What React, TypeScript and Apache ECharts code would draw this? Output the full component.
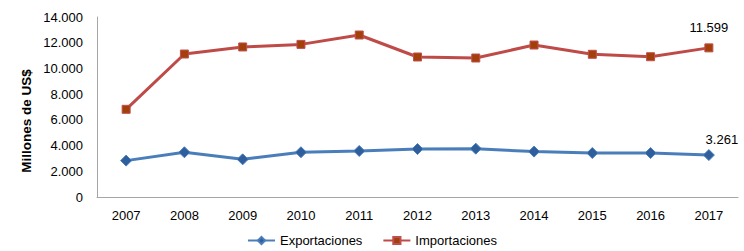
import React, { useEffect, useRef } from "react";
import * as echarts from "echarts";

const years = ["2007", "2008", "2009", "2010", "2011", "2012", "2013", "2014", "2015", "2016", "2017"];
const exportaciones = [2830, 3480, 2930, 3480, 3580, 3730, 3760, 3530, 3420, 3420, 3261];
const importaciones = [6820, 11120, 11670, 11870, 12600, 10890, 10810, 11820, 11100, 10910, 11599];
const yAxisTitle = "Millones de US$";

const fmt = (v: number) => String(Math.round(v)).replace(/\B(?=(\d{3})+(?!\d))/g, ".");

export default function App() {
  const ref = useRef<HTMLDivElement>(null);
  useEffect(() => {
    document.body.style.margin = "0";
    const chart = echarts.init(ref.current!, null, { renderer: "svg" });
    const font = "Liberation Sans, Arial, sans-serif";
    const last = years.length - 1;
    chart.setOption({
      animation: false,
      textStyle: { fontFamily: font },
      grid: { left: 97, right: 6, top: 17, bottom: 54 },
      graphic: [
        {
          type: "text",
          x: 26,
          y: 121,
          rotation: Math.PI / 2,
          style: {
            text: yAxisTitle,
            align: "center",
            verticalAlign: "middle",
            fontSize: 13.5,
            fontWeight: "bold",
            fontFamily: font,
            fill: "#000",
          },
        },
      ],
      legend: {
        top: 229,
        left: "center",
        itemWidth: 27,
        itemHeight: 9,
        itemGap: 20,
        textStyle: { fontSize: 13, color: "#000", fontFamily: font },
        data: ["Exportaciones", "Importaciones"],
      },
      xAxis: {
        type: "category",
        data: years,
        boundaryGap: true,
        axisLine: { lineStyle: { color: "#a6a6a6", width: 1 } },
        axisTick: { show: false },
        axisLabel: { color: "#000", fontSize: 13, margin: 12, fontFamily: font },
      },
      yAxis: {
        type: "value",
        min: 0,
        max: 14000,
        interval: 2000,
        axisLine: { show: true, lineStyle: { color: "#a6a6a6", width: 1 } },
        axisTick: { show: false },
        splitLine: { show: false },
        axisLabel: { color: "#000", fontSize: 13, margin: 14, formatter: (v: number) => fmt(v), fontFamily: font },
      },
      series: [
        {
          name: "Exportaciones",
          type: "line",
          data: exportaciones.map((v, i) =>
            i === last
              ? { value: v, label: { show: true, position: "top", offset: [13, 2], formatter: () => fmt(v), fontSize: 13, color: "#000", fontFamily: font } }
              : v
          ),
          symbol: "diamond",
          symbolSize: 11,
          lineStyle: { color: "#4a7ebb", width: 3 },
          itemStyle: { color: "#2e5f9c", borderColor: "#4a7ebb", borderWidth: 1 },
          color: "#4a7ebb",
        },
        {
          name: "Importaciones",
          type: "line",
          data: importaciones.map((v, i) =>
            i === last
              ? { value: v, label: { show: true, position: "top", offset: [0, -4], formatter: () => fmt(v), fontSize: 13, color: "#000", fontFamily: font } }
              : v
          ),
          symbol: "rect",
          symbolSize: 8,
          lineStyle: { color: "#be4b48", width: 3 },
          itemStyle: { color: "#a33f0b", borderColor: "#c0504d", borderWidth: 1 },
          color: "#be4b48",
        },
      ],
    });
    return () => chart.dispose();
  }, []);
  return <div ref={ref} style={{ width: 744, height: 251 }} />;
}
